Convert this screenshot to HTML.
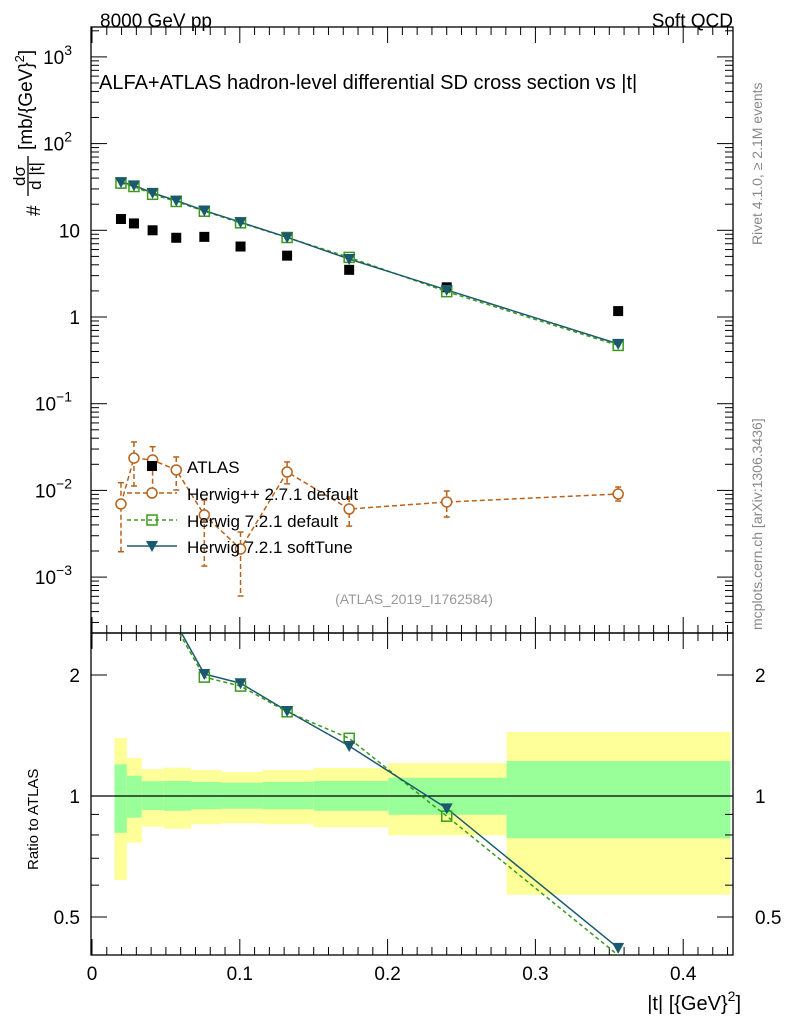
<!DOCTYPE html>
<html><head><meta charset="utf-8"><style>
body{margin:0;background:#fff}
svg{display:block;font-family:"Liberation Sans",sans-serif}
</style></head><body>
<svg id="c" width="786" height="1024" xmlns="http://www.w3.org/2000/svg"></svg>
<script>
const xs=[0.0196,0.0284,0.041,0.057,0.076,0.1005,0.132,0.174,0.240,0.356];
const atlas=[13.5,12,10,8.2,8.4,6.5,5.1,3.5,2.2,1.17];
const hwDefault=[35,32,26,21.5,16.6,12.2,8.26,4.87,1.96,0.47];
const hwSoft=[36,33,27,22,16.9,12.4,8.3,4.66,2.05,0.49];
const hwpp=[0.00697,0.0236,0.0224,0.0172,0.0052,0.00211,0.0163,0.0061,0.00735,0.00908];
const hwppUp=[0.01227,0.0362,0.0319,0.0243,0.00774,0.00331,0.0213,0.0084,0.00984,0.01094];
const hwppDn=[0.00196,0.01124,0.0101,0.0101,0.00134,0.000605,0.0119,0.00388,0.00493,0.00755];
const binEdges=[0.0152,0.0236,0.0337,0.0486,0.0670,0.0873,0.1153,0.1501,0.2005,0.2805,0.4320];
const yelUp=[1.394,1.243,1.167,1.176,1.161,1.147,1.161,1.174,1.208,1.443];
const yelDn=[0.618,0.765,0.839,0.829,0.850,0.855,0.850,0.836,0.798,0.568];
const grnUp=[1.199,1.123,1.088,1.090,1.084,1.079,1.084,1.090,1.110,1.222];
const grnDn=[0.810,0.883,0.923,0.919,0.927,0.930,0.927,0.919,0.898,0.785];
const xTicks=[0,0.1,0.2,0.3,0.4];
const xTickLabels=["0","0.1","0.2","0.3","0.4"];

const NS="http://www.w3.org/2000/svg";
const svg=document.getElementById('c');
const L=91,R=733,T=27,M=633,B=955;
const X=v=>92+v*1478;
const Y=v=>317-86.7*Math.log10(v);
const YR=r=>796-121*Math.log2(r);
function el(tag,a,parent){const e=document.createElementNS(NS,tag);for(const k in a)e.setAttribute(k,a[k]);(parent||svg).appendChild(e);return e;}
function txt(s,a,parent){const e=el('text',a,parent);e.textContent=s;return e;}

const defs=el('defs',{});
const c1=el('clipPath',{id:'cm'},defs);el('rect',{x:L,y:T,width:R-L,height:M-T},c1);
const c2=el('clipPath',{id:'cr'},defs);el('rect',{x:L,y:M+1,width:R-L,height:B-M-1},c2);

const gr=el('g',{'clip-path':'url(#cr)'});


for(let i=0;i<binEdges.length-1;i++){
  const x0=X(binEdges[i]),x1=X(binEdges[i+1]);
  const y=el('rect',{x:x0,y:YR(yelUp[i]),width:x1-x0,height:YR(yelDn[i])-YR(yelUp[i]),fill:'#ffff99'},gr);
  
  
  const g=el('rect',{x:x0,y:YR(grnUp[i]),width:x1-x0,height:YR(grnDn[i])-YR(grnUp[i]),fill:'#99ff99'},gr);
  
  
}
el('line',{x1:L,x2:R,y1:YR(1),y2:YR(1),stroke:'#000','stroke-width':1.3});

el('rect',{x:L,y:T,width:R-L,height:M-T,fill:'none',stroke:'#000','stroke-width':1.3});
el('rect',{x:L,y:M,width:R-L,height:B-M,fill:'none',stroke:'#000','stroke-width':1.3});

for(let e=-4;e<=3;e++){
  for(let m=1;m<10;m++){
    const v=m*Math.pow(10,e);const y=Y(v);
    if(y<T||y>M)continue;
    const len=m==1?16:8;
    el('line',{x1:L,x2:L+len,y1:y,y2:y,stroke:'#000'});
    el('line',{x1:R,x2:R-len,y1:y,y2:y,stroke:'#000'});
  }
}
const mainLab=[[3,'10','3'],[2,'10','2'],[1,'10',''],[0,'1',''],[-1,'10','−1'],[-2,'10','−2'],[-3,'10','−3']];
mainLab.forEach(([e,b,s])=>{
  const y=Y(Math.pow(10,e));
  const t=el('text',{x:s?72:80,y:y+7,'font-size':19,'text-anchor':'end'});
  t.textContent=b;
  if(s){const ts=el('tspan',{dy:-9,'font-size':14},t);ts.textContent=s;}
  
  
});
[0.5,0.6,0.7,0.8,0.9,1,2].forEach(r=>{
  const y=YR(r);const len=(r==0.5||r==1||r==2)?16:8;
  el('line',{x1:L,x2:L+len,y1:y,y2:y,stroke:'#000'});
  el('line',{x1:R,x2:R-len,y1:y,y2:y,stroke:'#000'});
});
[[2,'2'],[1,'1'],[0.5,'0.5']].forEach(([r,s])=>{
  txt(s,{x:80,y:YR(r)+7,'font-size':19,'text-anchor':'end'});
  txt(s,{x:755,y:YR(r)+7,'font-size':19});
});
for(let i=0;i<=43;i++){
  const v=i*0.01;const x=X(v);if(x>R)break;
  const len=i%10==0?16:8;
  el('line',{x1:x,x2:x,y1:B,y2:B-len,stroke:'#000'});
  el('line',{x1:x,x2:x,y1:M,y2:M+len,stroke:'#000'});
  el('line',{x1:x,x2:x,y1:M,y2:M-len,stroke:'#000'});
  el('line',{x1:x,x2:x,y1:T,y2:T+len,stroke:'#000'});
}
xTicks.forEach((v,i)=>{
  const t=txt(xTickLabels[i],{x:X(v),y:980,'font-size':19,'text-anchor':'middle'});
  
  
});

const gm=el('g',{'clip-path':'url(#cm)'});
function poly(vals,yf,attrs,parent){return el('polyline',Object.assign({points:xs.map((x,i)=>X(x)+','+yf(vals[i])).join(' '),fill:'none'},attrs),parent);}
poly(hwpp,Y,{stroke:'#b8621b','stroke-width':1.5,'stroke-dasharray':'5,3'},gm);
xs.forEach((x,i)=>{
  const cx=X(x);
  el('line',{x1:cx,x2:cx,y1:Y(hwppUp[i]),y2:Y(hwppDn[i]),stroke:'#b8621b','stroke-width':1.5,'stroke-dasharray':'5,3'},gm);
  el('line',{x1:cx-3,x2:cx+3,y1:Y(hwppUp[i]),y2:Y(hwppUp[i]),stroke:'#b8621b','stroke-width':1.5},gm);
  el('line',{x1:cx-3,x2:cx+3,y1:Y(hwppDn[i]),y2:Y(hwppDn[i]),stroke:'#b8621b','stroke-width':1.5},gm);
  const c=el('circle',{cx:cx,cy:Y(hwpp[i]),r:5,fill:'#fff',stroke:'#b8621b','stroke-width':1.5},gm);
  
  
});
xs.forEach((x,i)=>{
  const r=el('rect',{x:X(x)-5,y:Y(atlas[i])-5,width:10,height:10,fill:'#000'},gm);
  
  
});
function sq(cx,cy,p){const s=el('rect',{x:cx-5,y:cy-5,width:10,height:10,fill:'none',stroke:'#3a9a1a','stroke-width':1.5},p);}
function tri(cx,cy,p){const t=el('polygon',{points:`${cx-6},${cy-5} ${cx+6},${cy-5} ${cx},${cy+6}`,fill:'#1b5a6e'},p);}
poly(hwDefault,Y,{stroke:'#3a9a1a','stroke-width':1.5,'stroke-dasharray':'4,3'},gm);
poly(hwSoft,Y,{stroke:'#1b5a6e','stroke-width':1.5},gm);
xs.forEach((x,i)=>{sq(X(x),Y(hwDefault[i]),gm);tri(X(x),Y(hwSoft[i]),gm);});

const gr2=el('g',{'clip-path':'url(#cr)'});
const rDef=hwDefault.map((v,i)=>v/atlas[i]);
const rSoft=hwSoft.map((v,i)=>v/atlas[i]);
poly(rDef,YR,{stroke:'#3a9a1a','stroke-width':1.5,'stroke-dasharray':'4,3'},gr2);
poly(rSoft,YR,{stroke:'#1b5a6e','stroke-width':1.5},gr2);
xs.forEach((x,i)=>{
  if(YR(rDef[i])>M+4&&YR(rDef[i])<B)sq(X(x),YR(rDef[i]),gr2);
  if(YR(rSoft[i])>M+4&&YR(rSoft[i])<B)tri(X(x),YR(rSoft[i]),gr2);
});

const lg=el('g',{});


const lx=152,ly=[466,493,520,546];
el('rect',{x:lx-5,y:ly[0]-5,width:10,height:10,fill:'#000'},lg);
el('line',{x1:lx-25,x2:lx+25,y1:ly[1],y2:ly[1],stroke:'#b8621b','stroke-width':1.5,'stroke-dasharray':'5,3'},lg);
el('circle',{cx:lx,cy:ly[1],r:5,fill:'#fff',stroke:'#b8621b','stroke-width':1.5},lg);
el('line',{x1:lx-25,x2:lx+25,y1:ly[2],y2:ly[2],stroke:'#3a9a1a','stroke-width':1.5,'stroke-dasharray':'4,3'},lg);
sq(lx,ly[2],lg);
el('line',{x1:lx-25,x2:lx+25,y1:ly[3],y2:ly[3],stroke:'#1b5a6e','stroke-width':1.5},lg);
tri(lx,ly[3],lg);
['ATLAS','Herwig++ 2.7.1 default','Herwig 7.2.1 default','Herwig 7.2.1 softTune'].forEach((s,i)=>{
  const t=txt(s,{x:187,y:ly[i]+7,'font-size':17},lg);
  
  
});
</script>
<svg style="position:absolute;left:0;top:0" width="786" height="1024" xmlns="http://www.w3.org/2000/svg" font-family="Liberation Sans, sans-serif">
<text x="100" y="27" font-size="19" fill="#000">8000 GeV pp</text>
<text x="733" y="27" font-size="19" text-anchor="end">Soft QCD</text>
<text x="99" y="89" font-size="20">ALFA+ATLAS hadron-level differential SD cross section vs |t|</text>
<text x="414" y="604" font-size="14" fill="#999" text-anchor="middle">(ATLAS_2019_I1762584)</text>
<text transform="translate(762,245) rotate(-90)" font-size="14" fill="#888">Rivet 4.1.0, ≥ 2.1M events</text>
<text transform="translate(762,630) rotate(-90)" font-size="14" fill="#888">mcplots.cern.ch [arXiv:1306.3436]</text>
<g transform="rotate(-90)" font-size="19">
  <text x="-216" y="40">#</text>
  <text x="-176" y="25" font-size="17" text-anchor="middle">dσ</text>
  <line x1="-196" x2="-156" y1="28" y2="28" stroke="#000" stroke-width="1.3"/>
  <text x="-176" y="41" font-size="17" text-anchor="middle">d |t|</text>
  <text x="-150" y="32">[mb/{GeV}<tspan font-size="13" dy="-8">2</tspan><tspan dy="8">]</tspan></text>
</g>
<text transform="translate(38,870) rotate(-90)" font-size="15">Ratio to ATLAS</text>
<text x="741" y="1010" font-size="20" text-anchor="end">|t| [{GeV}<tspan font-size="14" dy="-9">2</tspan><tspan dy="9">]</tspan></text>
</svg>
</body></html>
